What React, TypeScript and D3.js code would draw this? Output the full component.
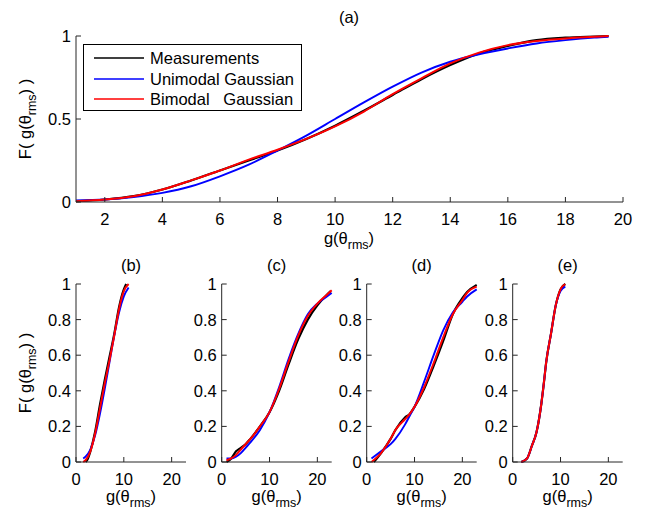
import React from "react";
import * as d3 from "d3";

// ---- Panel (a): full-range CDFs ----
const topX = [1, 2, 3, 4, 5, 6, 7, 8, 9, 10, 11, 12, 13, 14, 15, 16, 17, 18, 19, 19.5];
const topMeasured = [0.005, 0.015, 0.035, 0.075, 0.13, 0.19, 0.25, 0.31, 0.38, 0.46, 0.55, 0.645, 0.74, 0.825, 0.895, 0.94, 0.975, 0.99, 0.997, 1.0];
const topUnimodal = [0.01, 0.015, 0.03, 0.055, 0.095, 0.155, 0.225, 0.31, 0.4, 0.5, 0.6, 0.695, 0.78, 0.845, 0.89, 0.925, 0.955, 0.975, 0.99, 0.995];
const topBimodal = [0.005, 0.015, 0.035, 0.075, 0.13, 0.19, 0.255, 0.315, 0.38, 0.455, 0.545, 0.65, 0.745, 0.835, 0.9, 0.945, 0.97, 0.985, 0.995, 1.0];
const topXTicks = [2, 4, 6, 8, 10, 12, 14, 16, 18, 20];
const topYTicks = [0, 0.5, 1];

// ---- Panel (b) ----
const bMeasX = [2, 2.5, 3, 4, 5, 6, 7, 8, 9, 10, 10.5];
const bMeas = [0, 0.02, 0.06, 0.17, 0.32, 0.46, 0.59, 0.72, 0.87, 0.97, 1.0];
const bFitX = [1.5, 2, 3, 4, 5, 6, 7, 8, 9, 10, 11];
const bUni = [0.02, 0.03, 0.07, 0.15, 0.27, 0.41, 0.56, 0.71, 0.84, 0.93, 0.98];
const bBi = [0, 0.01, 0.06, 0.16, 0.3, 0.44, 0.57, 0.71, 0.86, 0.96, 1.0];

// ---- Panel (c) ----
const cMeasX = [1, 2, 3, 4, 5, 6, 8, 10, 12, 14, 16, 18, 20, 22, 22.8];
const cMeas = [0, 0.02, 0.06, 0.08, 0.1, 0.13, 0.2, 0.28, 0.4, 0.55, 0.69, 0.8, 0.88, 0.94, 0.96];
const cFitX = [1, 2, 3, 4, 5, 6, 8, 10, 12, 14, 16, 18, 20, 22, 23];
const cUni = [0.02, 0.02, 0.03, 0.05, 0.08, 0.11, 0.18, 0.28, 0.42, 0.58, 0.72, 0.83, 0.89, 0.93, 0.95];
const cBi = [0.01, 0.02, 0.04, 0.07, 0.1, 0.13, 0.2, 0.28, 0.41, 0.565, 0.71, 0.82, 0.89, 0.94, 0.965];

// ---- Panel (d) ----
const dMeasX = [1.5, 3, 5, 6, 8, 9, 10, 12, 14, 16, 18, 20, 21, 23];
const dMeas = [0, 0.05, 0.13, 0.18, 0.25, 0.27, 0.31, 0.41, 0.54, 0.68, 0.83, 0.92, 0.955, 0.995];
const dFitX = [1, 3, 5, 6, 8, 9, 10, 12, 14, 16, 18, 20, 21, 23];
const dUni = [0.02, 0.06, 0.1, 0.13, 0.21, 0.26, 0.31, 0.45, 0.6, 0.74, 0.84, 0.9, 0.93, 0.97];
const dBi = [0, 0.05, 0.13, 0.18, 0.24, 0.27, 0.31, 0.42, 0.555, 0.7, 0.83, 0.91, 0.95, 0.985];

// ---- Panel (e) ----
const eX = [1.8, 3, 4, 5, 6, 6.5, 7, 8, 9, 10, 11];
const eMeas = [0, 0.02, 0.09, 0.17, 0.33, 0.44, 0.56, 0.72, 0.88, 0.97, 1.0];
const eUni = [0, 0.02, 0.09, 0.17, 0.33, 0.44, 0.56, 0.72, 0.88, 0.96, 0.985];
const eBi = [0, 0.02, 0.09, 0.17, 0.33, 0.44, 0.56, 0.72, 0.88, 0.97, 1.0];

const smallXTicks = [0, 10, 20];
const smallYTicks = [0, 0.2, 0.4, 0.6, 0.8, 1];

const legendLabels = ["Measurements", "Unimodal Gaussian", "Bimodal   Gaussian"];
const seriesColors = ["#000000", "#0000ff", "#ff0000"];
const seriesWidths = [2.2, 1.9, 2];

const FONT = "'Liberation Sans', Arial, sans-serif";
const FS = 16.5;
const AXIS = "#262626";

type Series = { x: number[]; y: number[] };

function Curves({ series, xs, ys }: { series: Series[]; xs: d3.ScaleLinear<number, number>; ys: d3.ScaleLinear<number, number> }) {
  return (
    <g>
      {series.map((s, i) => {
        const pts = s.x.map((v, k) => [v, s.y[k]] as [number, number]);
        const path = d3
          .line<[number, number]>()
          .x((d) => xs(d[0]))
          .y((d) => ys(d[1]))
          .curve(d3.curveMonotoneX)(pts);
        return (
          <path key={i} d={path || ""} fill="none" stroke={seriesColors[i]} strokeWidth={seriesWidths[i]} strokeLinejoin="round" />
        );
      })}
    </g>
  );
}

function GLabel({ x, y, anchor = "middle" }: { x: number; y: number; anchor?: string }) {
  return (
    <text x={x} y={y} textAnchor={anchor as any} fontFamily={FONT} fontSize={FS} fill="#000">
      g(θ<tspan fontSize={12.5} dy={5}>rms</tspan>
      <tspan dy={-5}>)</tspan>
    </text>
  );
}

function FLabel({ x, y }: { x: number; y: number }) {
  return (
    <text transform={`translate(${x},${y}) rotate(-90)`} textAnchor="middle" fontFamily={FONT} fontSize={FS} fill="#000" style={{ whiteSpace: "pre" }}>
      {"F( g(θ"}
      <tspan fontSize={12.5} dy={5}>rms</tspan>
      <tspan dy={-5}>{") )"}</tspan>
    </text>
  );
}

function Axes({
  xs,
  ys,
  xTicks,
  yTicks,
  yFmt,
}: {
  xs: d3.ScaleLinear<number, number>;
  ys: d3.ScaleLinear<number, number>;
  xTicks: number[];
  yTicks: number[];
  yFmt: (v: number) => string;
}) {
  const [x0, x1] = xs.range();
  const [y0, y1] = ys.range();
  return (
    <g>
      <line x1={x0} x2={x1} y1={y0} y2={y0} stroke={AXIS} strokeWidth={1} />
      <line x1={x0} x2={x0} y1={y0} y2={y1} stroke={AXIS} strokeWidth={1} />
      {xTicks.map((t) => (
        <g key={"x" + t}>
          <line x1={xs(t)} x2={xs(t)} y1={y0} y2={y0 - 5} stroke={AXIS} strokeWidth={1} />
          <text x={xs(t)} y={y0 + 23} textAnchor="middle" fontFamily={FONT} fontSize={FS} fill="#000">
            {t}
          </text>
        </g>
      ))}
      {yTicks.map((t) => (
        <g key={"y" + t}>
          <line x1={x0} x2={x0 + 5} y1={ys(t)} y2={ys(t)} stroke={AXIS} strokeWidth={1} />
          <text x={x0 - 5} y={ys(t) + 6} textAnchor="end" fontFamily={FONT} fontSize={FS} fill="#000">
            {yFmt(t)}
          </text>
        </g>
      ))}
    </g>
  );
}

const smallPanels = [
  { title: "(b)", left: 76, meas: { x: bMeasX, y: bMeas }, uni: { x: bFitX, y: bUni }, bi: { x: bFitX, y: bBi } },
  { title: "(c)", left: 221.7, meas: { x: cMeasX, y: cMeas }, uni: { x: cFitX, y: cUni }, bi: { x: cFitX, y: cBi } },
  { title: "(d)", left: 366.7, meas: { x: dMeasX, y: dMeas }, uni: { x: dFitX, y: dUni }, bi: { x: dFitX, y: dBi } },
  { title: "(e)", left: 512.7, meas: { x: eX, y: eMeas }, uni: { x: eX, y: eUni }, bi: { x: eX, y: eBi } },
];

export default function App() {
  const topXs = d3.scaleLinear().domain([1, 20]).range([76, 623]);
  const topYs = d3.scaleLinear().domain([0, 1]).range([202, 36]);
  const fmt = (v: number) => String(v);

  const legendRows = [58, 79, 99];

  return (
    <svg width={648} height={513} style={{ position: "absolute", left: 0, top: 0, background: "#fff" }}>
      <rect width={648} height={513} fill="#fff" />
      {/* Panel (a) */}
      <text x={349} y={23} textAnchor="middle" fontFamily={FONT} fontSize={FS}>
        (a)
      </text>
      <Curves
        series={[
          { x: topX, y: topMeasured },
          { x: topX, y: topUnimodal },
          { x: topX, y: topBimodal },
        ]}
        xs={topXs}
        ys={topYs}
      />
      <Axes xs={topXs} ys={topYs} xTicks={topXTicks} yTicks={topYTicks} yFmt={fmt} />
      <GLabel x={349} y={244} />
      <FLabel x={31} y={119} />

      {/* Legend */}
      <g>
        <rect x={83.5} y={44.5} width={218} height={66} fill="#fff" stroke="#000" strokeWidth={1} />
        {legendLabels.map((lab, i) => (
          <g key={lab}>
            <line x1={94} x2={144} y1={legendRows[i]} y2={legendRows[i]} stroke={seriesColors[i]} strokeWidth={1.3} />
            <text x={150} y={legendRows[i] + 6} fontFamily={FONT} fontSize={FS} style={{ whiteSpace: "pre" }}>
              {lab}
            </text>
          </g>
        ))}
      </g>

      {/* Panels (b)-(e) */}
      {smallPanels.map((p, i) => {
        const xs = d3.scaleLinear().domain([0, 23]).range([p.left, p.left + 110]);
        const ys = d3.scaleLinear().domain([0, 1]).range([462, 284]);
        return (
          <g key={p.title}>
            <text x={p.left + 55} y={271} textAnchor="middle" fontFamily={FONT} fontSize={FS}>
              {p.title}
            </text>
            <Curves series={[p.meas, p.uni, p.bi]} xs={xs} ys={ys} />
            <Axes xs={xs} ys={ys} xTicks={smallXTicks} yTicks={smallYTicks} yFmt={fmt} />
            <GLabel x={p.left + 55} y={502} />
            {i === 0 && <FLabel x={31} y={373} />}
          </g>
        );
      })}
    </svg>
  );
}
